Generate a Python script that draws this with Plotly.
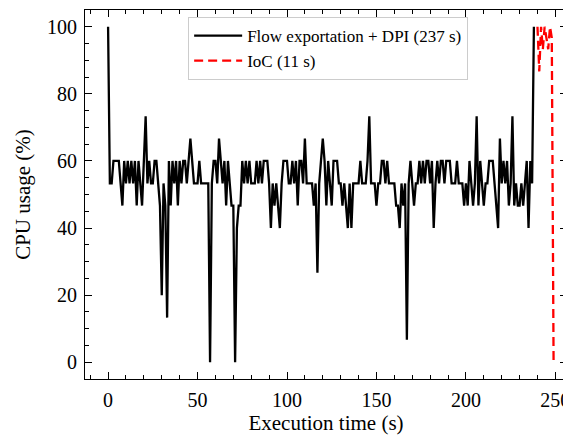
import plotly.graph_objects as go

# CPU usage sampled once per second (%)
flow_time = list(range(0, 239))
flow_cpu = [
    100, 53.3, 53.3, 60, 60, 60, 60, 53.3, 46.7, 60,
    53.3, 60, 53.3, 60, 53.3, 60, 46.7, 60, 53.3, 46.7,
    60, 73.3, 53.3, 60, 53.3, 53.3, 60, 60, 53.3, 46.7,
    20, 53.3, 46.7, 13.3, 60, 46.7, 60, 53.3, 60, 46.7,
    60, 53.3, 60, 60, 53.3, 60, 66.7, 60, 53.3, 53.3,
    53.3, 60, 53.3, 53.3, 53.3, 53.3, 53.3, 0, 53.3, 60,
    60, 53.3, 66.7, 60, 53.3, 60, 46.7, 60, 53.3, 46.7,
    46.7, 0, 40, 46.7, 46.7, 60, 53.3, 60, 53.3, 60,
    53.3, 53.3, 53.3, 60, 53.3, 60, 53.3, 60, 60, 60,
    53.3, 40, 53.3, 46.7, 53.3, 46.7, 40, 53.3, 60, 60,
    60, 53.3, 53.3, 60, 53.3, 60, 46.7, 60, 60, 53.3,
    66.7, 53.3, 53.3, 53.3, 53.3, 46.7, 53.3, 26.7, 53.3, 60,
    66.7, 60, 46.7, 60, 53.3, 46.7, 60, 60, 60, 53.3,
    53.3, 46.7, 53.3, 46.7, 40, 53.3, 40, 53.3, 53.3, 53.3,
    53.3, 60, 53.3, 53.3, 53.3, 60, 73.3, 53.3, 53.3, 53.3,
    46.7, 53.3, 53.3, 60, 60, 53.3, 60, 53.3, 53.3, 53.3,
    53.3, 46.7, 46.7, 40, 53.3, 46.7, 53.3, 6.7, 53.3, 60,
    53.3, 46.7, 53.3, 53.3, 60, 53.3, 60, 53.3, 60, 60,
    53.3, 60, 40, 53.3, 60, 53.3, 60, 60, 53.3, 60,
    60, 60, 53.3, 53.3, 53.3, 60, 53.3, 53.3, 53.3, 46.7,
    53.3, 46.7, 60, 53.3, 46.7, 53.3, 73.3, 46.7, 60, 53.3,
    46.7, 53.3, 53.3, 60, 60, 60, 53.3, 46.7, 40, 66.7,
    53.3, 60, 53.3, 60, 46.7, 53.3, 73.3, 46.7, 53.3, 46.7,
    46.7, 53.3, 46.7, 53.3, 60, 40, 60, 53.3, 100,
]

ioc_time = [240, 241, 242, 243, 244, 245, 246, 247, 248, 249]
ioc_cpu = [100, 86.7, 100, 93.3, 100, 96.7, 93.3, 100, 96.7, 0]

serif = "Liberation Serif, Times New Roman, serif"

fig = go.Figure()
fig.add_trace(go.Scatter(
    x=flow_time, y=flow_cpu, mode="lines",
    line=dict(color="black", width=2.3),
    name="Flow exportation + DPI (237 s)",
))
fig.add_trace(go.Scatter(
    x=ioc_time, y=ioc_cpu, mode="lines",
    line=dict(color="red", width=2.3, dash="9px,5px"),
    name="IoC (11 s)",
))

axis_common = dict(
    showgrid=False, zeroline=False, automargin=False,
    showline=True, linecolor="black", linewidth=1.2, mirror="allticks",
    ticks="inside", ticklen=7, tickwidth=1.2, tickcolor="black",
    ticklabeloverflow="allow", ticklabelstandoff=3,
    tickfont=dict(family=serif, size=20, color="black"),
)

fig.update_xaxes(
    **axis_common,
    range=[-12.9, 256.5], tick0=0, dtick=50,
    minor=dict(ticks="inside", ticklen=4, tickwidth=1, tickcolor="black", dtick=10),
    title=dict(text="Execution time (s)", font=dict(family=serif, size=21, color="black"), standoff=4),
)
fig.update_yaxes(
    **axis_common,
    range=[-5, 105], tick0=0, dtick=20,
    minor=dict(ticks="inside", ticklen=4, tickwidth=1, tickcolor="black", dtick=5),
    title=dict(text="CPU usage (%)", font=dict(family=serif, size=21, color="black"), standoff=10),
)

# page body has an 8px margin, so the figure is shrunk to fit the window
fig.update_layout(
    width=563, height=432,
    margin=dict(l=77, r=4, t=2, b=61),
    plot_bgcolor="white", paper_bgcolor="white",
    font=dict(family=serif, color="black"),
    legend=dict(
        x=0.214, y=0.981, xanchor="left", yanchor="top",
        bgcolor="rgba(255,255,255,0.8)", bordercolor="#cccccc", borderwidth=1,
        font=dict(family=serif, size=17, color="black"),
        itemwidth=48, tracegroupgap=0,
    ),
)

fig.write_html("out.html")
